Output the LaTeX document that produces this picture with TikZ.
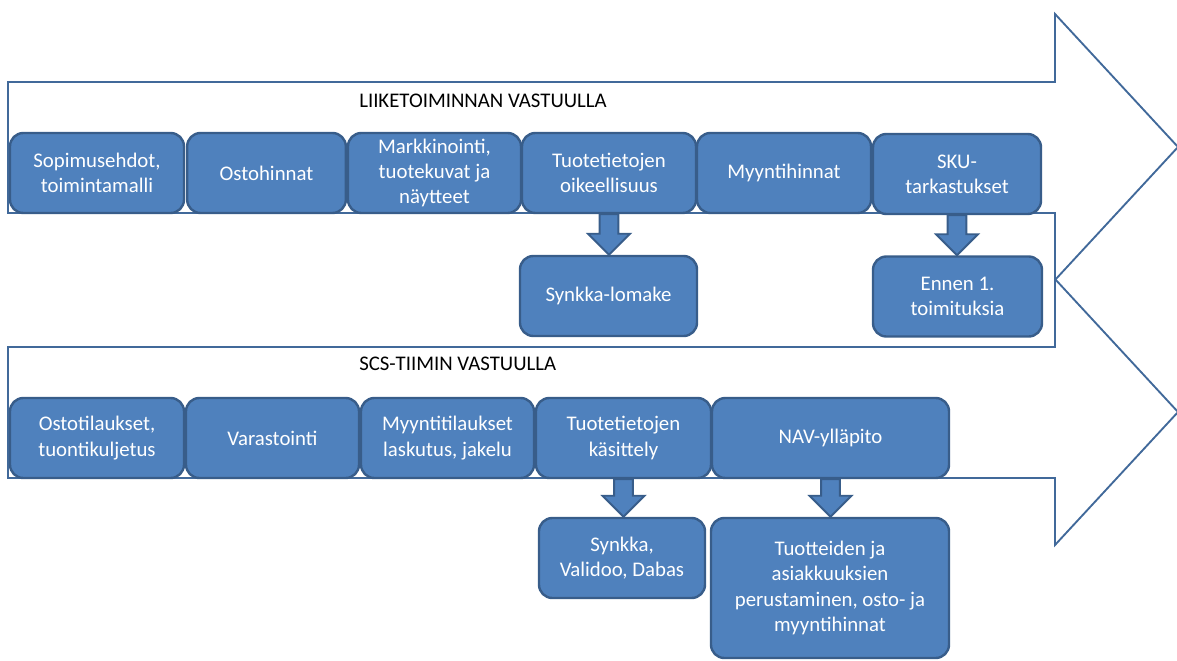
\documentclass[tikz,border=0pt]{standalone}
\usepackage{fontspec}
\setmainfont{Carlito}
\usetikzlibrary{arrows.meta, calc}
\definecolor{boxfill}{HTML}{4F81BD}
\definecolor{boxline}{HTML}{385D8A}
\definecolor{bandline}{HTML}{41699A}
% block arrow from the bottom of one box to the top of the next
\newcommand{\blockdown}[2]{%
	\draw[blockarrow] let \p1=(#1.south), \p2=(#2.north) in
	(\x1-7pt,\y1) -- (\x1+7pt,\y1) -- (\x1+7pt,\y2+15.75pt)
	-- (\x1+15.75pt,\y2+15.75pt) -- (\x1,\y2) -- (\x1-15.75pt,\y2+15.75pt)
	-- (\x1-7pt,\y2+15.75pt) -- cycle;}

\begin{document}
\begin{tikzpicture}[x=0.75pt, y=-0.75pt, >=Latex, line cap=round, line join=round,
	font=\fontsize{15.6pt}{19pt}\selectfont,
	box/.style={draw=boxline, fill=boxfill, line width=1.8pt, rounded corners=10pt,
		text=white, align=center, inner sep=2pt, minimum height=60pt},
	band/.style={draw=bandline, fill=white, line width=1.4pt, line join=miter},
	blockarrow/.style={draw=boxline, fill=boxfill, line width=1.4pt, line join=miter}]
	
	\useasboundingbox (0,0) rectangle (1177,660);
	
	% ===== the two big arrows =====
	\draw[band] (8,82) -- (1055,82) -- (1055,14) -- (1178,147) -- (1055,280)
	-- (1055,213) -- (8,213) -- cycle;
	\draw[band] (8,347) -- (1055,347) -- (1055,279) -- (1178,412) -- (1055,545)
	-- (1055,478) -- (8,478) -- cycle;
	\node[anchor=west, inner sep=0pt] (liike) at (359,101) {LIIKETOIMINNAN VASTUULLA};
	\node[anchor=west, inner sep=0pt] (scs) at (359,364) {SCS-TIIMIN VASTUULLA};
	
	% ===== Top: liiketoiminta =====
	\begin{scope}
		\node[box, minimum width=130.5pt] (sopimus) at (97,173) {Sopimusehdot,\\toimintamalli};
		\node[box, minimum width=119pt] (osto) at (266.5,173) {Ostohinnat};
		\node[box, minimum width=129.75pt] (markk) at (434.5,173) {Markkinointi,\\tuotekuvat ja\\näytteet};
		\node[box, minimum width=130.5pt] (oikeel) at (609,173) {Tuotetietojen\\oikeellisuus};
		\node[box, minimum width=130.5pt] (myynti) at (784,173) {Myyntihinnat};
		\node[box, minimum width=126pt] (sku) at (957,174) {SKU-\\tarkastukset};
		% results
		\node[box, minimum width=132.75pt] (lomake) at (608.5,296) {Synkka-lomake};
		\node[box, minimum width=126.75pt] (ennen) at (957.5,296.5) {Ennen 1.\\toimituksia};
		\blockdown{oikeel}{lomake}
		\blockdown{sku}{ennen}
	\end{scope}
	
	% ===== Bottom: SCS-tiimi =====
	\begin{scope}
		\node[box, minimum width=130.5pt] (ostotil) at (97,438) {Ostotilaukset,\\tuontikuljetus};
		\node[box, minimum width=129.75pt] (varasto) at (272.5,438) {Varastointi};
		\node[box, minimum width=129.75pt] (myyntitil) at (447.5,438) {Myyntitilaukset\\laskutus, jakelu};
		\node[box, minimum width=131.25pt] (kasittely) at (623.5,438) {Tuotetietojen\\käsittely};
		\node[box, minimum width=177.75pt] (nav) at (830.5,438) {NAV-ylläpito};
		% results
		\node[box, minimum width=124.5pt] (validoo) at (622,558) {Synkka,\\Validoo, Dabas};
		\node[box, minimum width=178.5pt, minimum height=105pt] (perust) at (830,588)
		{Tuotteiden ja\\asiakkuuksien\\perustaminen, osto- ja\\myyntihinnat};
		\blockdown{kasittely}{validoo}
		\blockdown{nav}{perust}
	\end{scope}
	
\end{tikzpicture}
\end{document}
